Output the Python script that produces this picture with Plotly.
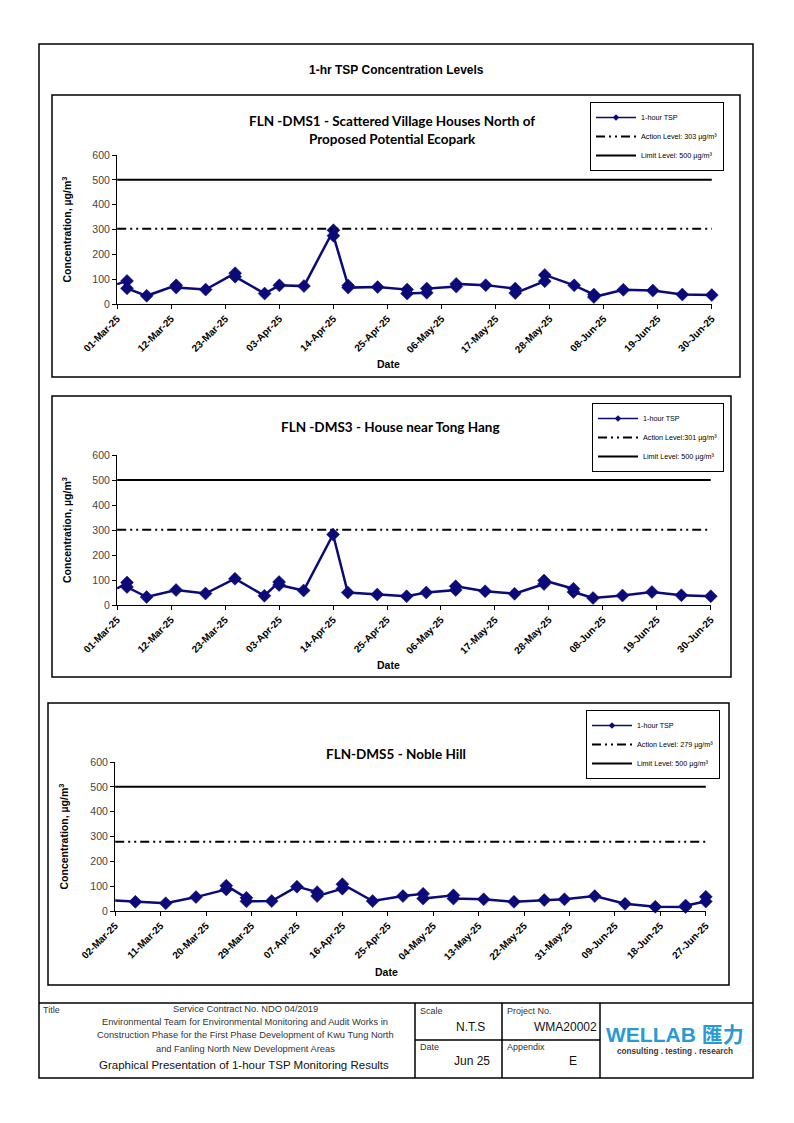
import pandas as pd
import plotly.graph_objects as go

W, H = 794, 1123

# ---------------- data ----------------
dms1_dates = ["2025-03-01", "2025-03-03", "2025-03-03", "2025-03-07", "2025-03-13", "2025-03-13",
              "2025-03-19", "2025-03-25", "2025-03-25", "2025-03-31", "2025-04-03", "2025-04-08",
              "2025-04-14", "2025-04-14", "2025-04-17", "2025-04-17", "2025-04-23", "2025-04-29",
              "2025-04-29", "2025-05-03", "2025-05-03", "2025-05-09", "2025-05-09", "2025-05-15",
              "2025-05-21", "2025-05-21", "2025-05-27", "2025-05-27", "2025-06-02", "2025-06-06",
              "2025-06-06", "2025-06-12", "2025-06-18", "2025-06-24", "2025-06-30"]
dms1_tsp = [80, 93, 63, 33, 75, 66,
            58, 124, 110, 42, 75, 72,
            297, 275, 74, 66, 68, 58,
            42, 45, 62, 70, 81, 76,
            62, 44, 92, 117, 75, 38,
            28, 57, 54, 38, 36]
dms1_action = 303
dms1_limit = 500
dms1_ticks = ["2025-03-01", "2025-03-12", "2025-03-23", "2025-04-03", "2025-04-14", "2025-04-25",
              "2025-05-06", "2025-05-17", "2025-05-28", "2025-06-08", "2025-06-19", "2025-06-30"]

dms3_dates = ["2025-03-01", "2025-03-03", "2025-03-03", "2025-03-07", "2025-03-13", "2025-03-19",
              "2025-03-25", "2025-03-31", "2025-04-03", "2025-04-03", "2025-04-08", "2025-04-14",
              "2025-04-17", "2025-04-23", "2025-04-29", "2025-05-03", "2025-05-09", "2025-05-09",
              "2025-05-15", "2025-05-21", "2025-05-27", "2025-05-27", "2025-06-02", "2025-06-02",
              "2025-06-06", "2025-06-12", "2025-06-18", "2025-06-24", "2025-06-30"]
dms3_tsp = [66, 90, 72, 32, 60, 46,
            105, 37, 92, 80, 58, 282,
            50, 42, 35, 50, 60, 75,
            55, 45, 84, 98, 65, 52,
            28, 38, 52, 39, 35]
dms3_action = 301
dms3_limit = 500
dms3_ticks = dms1_ticks

dms5_dates = ["2025-03-02", "2025-03-06", "2025-03-12", "2025-03-18", "2025-03-24", "2025-03-24",
              "2025-03-28", "2025-03-28", "2025-04-02", "2025-04-07", "2025-04-11", "2025-04-11",
              "2025-04-16", "2025-04-16", "2025-04-22", "2025-04-28", "2025-05-02", "2025-05-02",
              "2025-05-08", "2025-05-08", "2025-05-14", "2025-05-20", "2025-05-26", "2025-05-30",
              "2025-06-05", "2025-06-11", "2025-06-17", "2025-06-23", "2025-06-23", "2025-06-27",
              "2025-06-27"]
dms5_tsp = [42, 37, 31, 56, 87, 102,
            53, 39, 40, 98, 76, 60,
            90, 108, 40, 60, 69, 50,
            63, 50, 47, 37, 44, 47,
            60, 29, 17, 16, 22, 38,
            57]
dms5_action = 279
dms5_limit = 500
dms5_ticks = ["2025-03-02", "2025-03-11", "2025-03-20", "2025-03-29", "2025-04-07", "2025-04-16",
              "2025-04-25", "2025-05-04", "2025-05-13", "2025-05-22", "2025-05-31", "2025-06-09",
              "2025-06-18", "2025-06-27"]

y_ticks = [0, 100, 200, 300, 400, 500, 600]


def px(x):
    return x / W


def py(y):
    return 1 - y / H


NAVY = "#0a0a78"
ARIAL = "Liberation Sans, Arial, sans-serif"
CAL = "Lato, Carlito, Calibri, sans-serif"
ACTION_DASH = "9px,4px,2px,4px,2px,4px"

panels = [
    dict(dates=dms1_dates, vals=dms1_tsp, action=dms1_action, limit=dms1_limit, ticks=dms1_ticks,
         action_label="Action Level: 303 µg/m³",
         title=["FLN -DMS1 - Scattered Village Houses North of", "Proposed Potential Ecopark"],
         title_y=[121, 139], title_x=392,
         frame=(52, 95, 740, 377), plot=(117, 155, 712, 304), legend=(590, 102),
         ytitle_x=66, date=(388, 364)),
    dict(dates=dms3_dates, vals=dms3_tsp, action=dms3_action, limit=dms3_limit, ticks=dms3_ticks,
         action_label="Action Level:301 µg/m³",
         title=["FLN -DMS3 - House near Tong Hang"],
         title_y=[427], title_x=390,
         frame=(52, 396, 731, 677), plot=(117, 455, 711, 605), legend=(592, 403),
         ytitle_x=66, date=(388, 665)),
    dict(dates=dms5_dates, vals=dms5_tsp, action=dms5_action, limit=dms5_limit, ticks=dms5_ticks,
         action_label="Action Level: 279 µg/m³",
         title=["FLN-DMS5 - Noble Hill"],
         title_y=[754], title_x=396,
         frame=(48, 703, 729, 985), plot=(115, 762, 706, 911), legend=(586, 710),
         ytitle_x=63, date=(386, 972)),
]

fig = go.Figure()
shapes = []
annotations = []
layout_axes = {}


def ann(text, x, y, size, xanchor="center", color="black", family=ARIAL, angle=0):
    annotations.append(dict(text=text, x=px(x), y=py(y), xref="paper", yref="paper",
                            showarrow=False, xanchor=xanchor, yanchor="middle", textangle=angle,
                            font=dict(family=family, size=size, color=color)))


# outer page border
shapes.append(dict(type="rect", xref="paper", yref="paper", x0=px(39), x1=px(753), y0=py(1078), y1=py(44),
                   line=dict(color="black", width=1.5)))
ann("<b>1-hr TSP Concentration Levels</b>", 396, 70, 12)

for i, p in enumerate(panels, start=1):
    sfx = "" if i == 1 else str(i)
    xa, ya = "x" + sfx, "y" + sfx
    lg = "legend" + sfx
    x0, y0, x1, y1 = p["plot"]
    start = pd.Timestamp(p["ticks"][0])
    end = pd.Timestamp(p["ticks"][-1])
    rng = [start - pd.Timedelta(hours=1), end + pd.Timedelta(hours=1)]

    sizes = [0] + [10] * (len(p["vals"]) - 1)
    fig.add_trace(go.Scatter(x=p["dates"], y=p["vals"], mode="lines+markers", name="1-hour TSP",
                             line=dict(color=NAVY, width=2.5),
                             marker=dict(symbol="diamond", size=sizes, color=NAVY, opacity=1,
                                         line=dict(width=0.5, color=NAVY)),
                             cliponaxis=False, xaxis=xa, yaxis=ya, showlegend=False))
    # legend key for the series (small marker, as in the source legend)
    fig.add_trace(go.Scatter(x=[None], y=[None], mode="lines+markers", name="1-hour TSP",
                             line=dict(color=NAVY, width=1.5),
                             marker=dict(symbol="diamond", size=5, color=NAVY, opacity=1),
                             xaxis=xa, yaxis=ya, legend=lg))
    fig.add_trace(go.Scatter(x=[p["ticks"][0], p["ticks"][-1]], y=[p["action"], p["action"]],
                             mode="lines", name=p["action_label"],
                             line=dict(color="black", width=2, dash=ACTION_DASH),
                             xaxis=xa, yaxis=ya, legend=lg))
    fig.add_trace(go.Scatter(x=[p["ticks"][0], p["ticks"][-1]], y=[p["limit"], p["limit"]],
                             mode="lines", name="Limit Level: 500 µg/m³",
                             line=dict(color="black", width=2),
                             xaxis=xa, yaxis=ya, legend=lg))

    layout_axes["xaxis" + sfx] = dict(
        domain=[px(x0), px(x1)], anchor=ya, type="date", range=rng, automargin=False,
        tickmode="array", tickvals=p["ticks"], tickformat="%d-%b-%y", tickangle=-45,
        ticks="outside", ticklen=4, tickcolor="black", showline=True, linecolor="black", linewidth=1,
        showgrid=False, zeroline=False,
        tickfont=dict(family=ARIAL, size=10, color="black", weight="bold"))
    layout_axes["yaxis" + sfx] = dict(
        domain=[py(y1), py(y0)], anchor=xa, range=[0, 600], tickmode="array", tickvals=y_ticks,
        automargin=False,
        ticks="outside", ticklen=4, tickcolor="black", showline=True, linecolor="black", linewidth=1,
        showgrid=False, zeroline=False,
        tickfont=dict(family=ARIAL, size=10.5, color="#444444"))
    layout_axes[lg] = dict(
        x=px(p["legend"][0]), y=py(p["legend"][1]), xanchor="left", yanchor="top",
        xref="paper", yref="paper", bgcolor="white", bordercolor="black", borderwidth=1,
        font=dict(family=ARIAL, size=7.2, color="black"), itemwidth=40, tracegroupgap=0)

    fx0, fy0, fx1, fy1 = p["frame"]
    shapes.append(dict(type="rect", xref="paper", yref="paper", x0=px(fx0), x1=px(fx1),
                       y0=py(fy1), y1=py(fy0), line=dict(color="black", width=1.5), layer="below"))

    for t, ty in zip(p["title"], p["title_y"]):
        ann("<b>" + t + "</b>", p["title_x"], ty, 13.5, family=CAL)
    ann("<b>Concentration, µg/m<sup>3</sup></b>", p["ytitle_x"], (y0 + y1) / 2, 10.5, angle=-90)
    ann("<b>Date</b>", p["date"][0], p["date"][1], 10.5)

# ---------------- bottom title block ----------------
tb = dict(xref="paper", yref="paper", line=dict(color="black", width=1.5))
shapes.append(dict(type="line", x0=px(39), x1=px(753), y0=py(1003), y1=py(1003), **tb))
for vx in (415, 502, 600):
    shapes.append(dict(type="line", x0=px(vx), x1=px(vx), y0=py(1003), y1=py(1078), **tb))
shapes.append(dict(type="line", x0=px(415), x1=px(600), y0=py(1040), y1=py(1040), **tb))

GREY = "#333333"
DARK = "#111111"

ann("Title", 41, 1010, 9, xanchor="left", color=GREY)
contract_lines = ["Service Contract No. NDO 04/2019",
                  "Environmental Team for Environmental Monitoring and Audit Works in",
                  "Construction Phase for the First Phase Development of Kwu Tung North",
                  "and Fanling North New Development Areas"]
for ln, yy in zip(contract_lines, [1009, 1022, 1035, 1049]):
    ann(ln, 245, yy, 9.3, color=GREY)
ann("Graphical Presentation of 1-hour TSP Monitoring Results", 244, 1065, 11.5, color=DARK)
ann("Scale", 418, 1011, 9, xanchor="left", color=GREY)
ann("N.T.S", 470, 1027, 12, color=DARK)
ann("Date", 418, 1047, 9, xanchor="left", color=GREY)
ann("Jun 25", 472, 1061, 12, color=DARK)
ann("Project No.", 505, 1011, 9, xanchor="left", color=GREY)
ann("WMA20002", 599, 1027, 12, xanchor="right", color=DARK)
ann("Appendix", 505, 1047, 9, xanchor="left", color=GREY)
ann("E", 573, 1061, 12, color=DARK)
ann("<b>WELLAB</b> <span style='font-family:Noto Sans CJK TC'><b>匯力</b></span>", 675, 1033, 21,
    color="#2a9ad4")
ann("<b>consulting . testing . research</b>", 675, 1051, 8.2, color="#3a3a3a")

fig.update_layout(
    width=W, height=H, margin=dict(l=0, r=0, t=0, b=0, pad=0, autoexpand=False),
    paper_bgcolor="white", plot_bgcolor="white",
    shapes=shapes, annotations=annotations, **layout_axes)

fig.write_html("out.html", config={"displayModeBar": False},
               post_script="document.body.style.margin='0';")
